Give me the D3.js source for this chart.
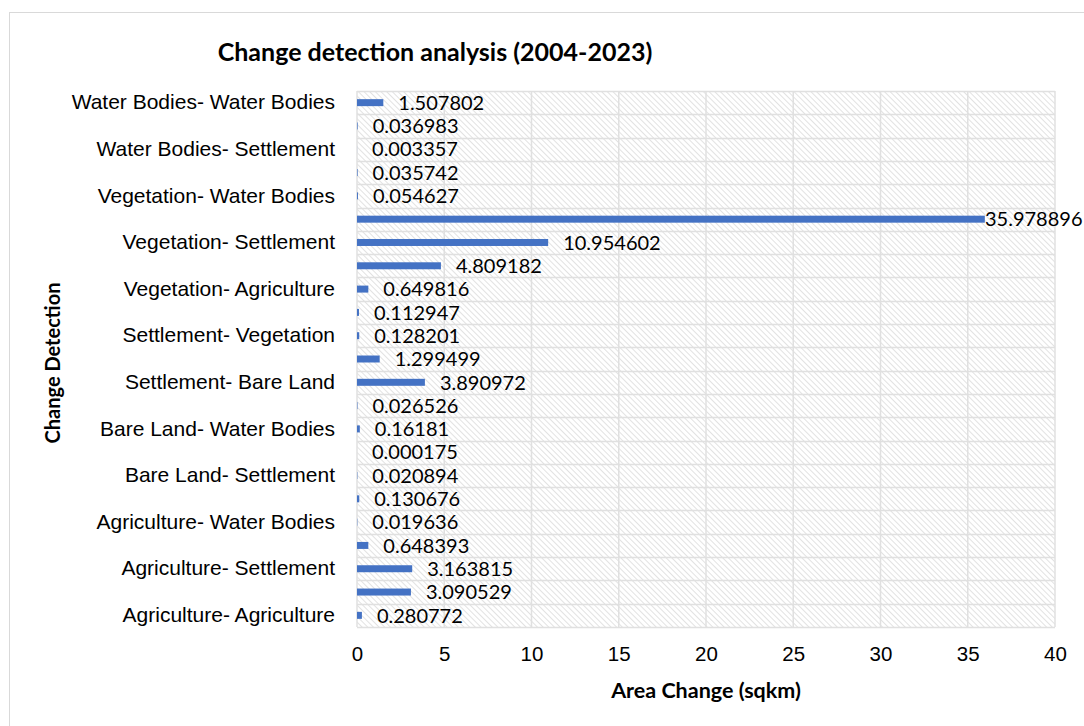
<!DOCTYPE html>
<html>
<head>
<meta charset="utf-8">
<script src="https://cdn.jsdelivr.net/npm/d3@7"></script>
<style>
  body { margin: 0; background: #fff; }
  svg { display: block; font-family: Lato, "Open Sans", sans-serif; }
</style>
</head>
<body>
<div id="chart"></div>
<script>
// Categories bottom to top, as in the original chart
const categories = [
  "Agriculture- Agriculture",
  "Agriculture- Bare Land",
  "Agriculture- Settlement",
  "Agriculture- Vegetation",
  "Agriculture- Water Bodies",
  "Bare Land- Agriculture",
  "Bare Land- Settlement",
  "Bare Land- Vegetation",
  "Bare Land- Water Bodies",
  "Settlement- Agriculture",
  "Settlement- Bare Land",
  "Settlement- Settlement",
  "Settlement- Vegetation",
  "Settlement- Water Bodies",
  "Vegetation- Agriculture",
  "Vegetation- Bare Land",
  "Vegetation- Settlement",
  "Vegetation- Vegetation",
  "Vegetation- Water Bodies",
  "Water Bodies- Agriculture",
  "Water Bodies- Settlement",
  "Water Bodies- Vegetation",
  "Water Bodies- Water Bodies",
];
const areaValues = [
  0.280772, 3.090529, 3.163815, 0.648393, 0.019636,
  0.130676, 0.020894, 0.000175, 0.16181, 0.026526,
  3.890972, 1.299499, 0.128201, 0.112947, 0.649816,
  4.809182, 10.954602, 35.978896, 0.054627, 0.035742,
  0.003357, 0.036983, 1.507802,
];
const xTicks = [0, 5, 10, 15, 20, 25, 30, 35, 40];

const W = 1084, H = 726;
const margin = { top: 91, right: 29, bottom: 99, left: 357 };
const iw = W - margin.left - margin.right;
const ih = H - margin.top - margin.bottom;

const svg = d3.select("#chart").append("svg").attr("width", W).attr("height", H);

// hatch pattern for plot background (downward diagonal)
const defs = svg.append("defs");
const pat = defs.append("pattern")
  .attr("id", "hatch")
  .attr("patternUnits", "userSpaceOnUse")
  .attr("width", 4).attr("height", 4)
  .attr("patternTransform", "rotate(-45)");
pat.append("rect").attr("width", 4).attr("height", 4).attr("fill", "#fff");
pat.append("line").attr("x1", 0).attr("y1", 0).attr("x2", 0).attr("y2", 4)
  .attr("stroke", "#d6d6d6").attr("stroke-width", 1.4);

// chart border
svg.append("rect")
  .attr("x", 9.5).attr("y", 12.5)
  .attr("width", W).attr("height", H)
  .attr("fill", "none").attr("stroke", "#d9d9d9");

svg.append("text")
  .attr("x", 435).attr("y", 61)
  .attr("text-anchor", "middle")
  .attr("font-size", 25).attr("font-weight", "bold")
  .text("Change detection analysis (2004-2023)");

const g = svg.append("g").attr("transform", `translate(${margin.left},${margin.top})`);

const x = d3.scaleLinear().domain([0, 40]).range([0, iw]);
const y = d3.scaleBand().domain(categories).range([ih, 0]).paddingInner(0.7).paddingOuter(0.35);
const yRow = d3.scaleBand().domain(categories).range([ih, 0]);

g.append("rect").attr("width", iw).attr("height", ih).attr("fill", "url(#hatch)");

// horizontal row lines
const rowEdges = categories.map((c) => yRow(c)).concat([ih]);
g.selectAll(".h-grid")
  .data(rowEdges)
  .join("line")
  .attr("x1", 0).attr("x2", iw)
  .attr("y1", (d) => Math.round(d) + 0.5).attr("y2", (d) => Math.round(d) + 0.5)
  .attr("stroke", "#e0e0e0").attr("stroke-width", 1.5);

// vertical grid
g.selectAll(".v-grid")
  .data(xTicks)
  .join("line")
  .attr("x1", (d) => x(d)).attr("x2", (d) => x(d))
  .attr("y1", 0).attr("y2", ih)
  .attr("stroke", "#e0e0e0").attr("stroke-width", 1.5);

// bars
g.selectAll(".bar")
  .data(categories)
  .join("rect")
  .attr("x", 0)
  .attr("y", (d) => y(d))
  .attr("width", (d, i) => x(areaValues[i]))
  .attr("height", y.bandwidth())
  .attr("fill", "#4472C4");

// data labels
g.selectAll(".val")
  .data(categories)
  .join("text")
  .attr("x", (d, i) => Math.min(x(areaValues[i]) + 15, iw - 70))
  .attr("y", (d) => y(d) + y.bandwidth() / 2)
  .attr("dy", "0.36em")
  .attr("font-size", 20)
  .attr("fill", "#000")
  .text((d, i) => String(areaValues[i]));

// x axis
const xAxis = g.append("g")
  .attr("transform", `translate(0,${ih})`)
  .call(d3.axisBottom(x).tickValues(xTicks).tickSize(0).tickPadding(19));
xAxis.select(".domain").remove();
xAxis.selectAll("text").attr("font-size", 20.5).attr("font-family", null).attr("fill", "#000");

// y axis, every other category labelled
const yAxis = g.append("g")
  .call(d3.axisLeft(yRow).tickValues(categories.filter((d, i) => i % 2 === 0)).tickSize(0).tickPadding(22));
yAxis.select(".domain").remove();
yAxis.selectAll("text").attr("font-size", 21).attr("font-family", null).attr("fill", "#000");

svg.append("text")
  .attr("x", margin.left + iw / 2).attr("y", 698)
  .attr("text-anchor", "middle")
  .attr("font-size", 21.5).attr("font-weight", "bold")
  .text("Area Change (sqkm)");

svg.append("text")
  .attr("transform", `translate(60,${margin.top + ih / 2 + 4}) rotate(-90)`)
  .attr("text-anchor", "middle")
  .attr("font-size", 20).attr("font-weight", "bold")
  .text("Change Detection");
</script>
</body>
</html>
